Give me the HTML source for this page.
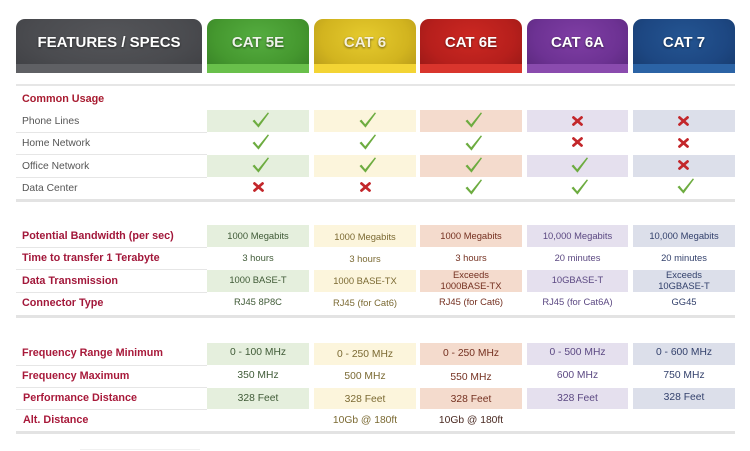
<!DOCTYPE html>
<html><head><meta charset="utf-8">
<style>
html,body{margin:0;padding:0;background:#fff;}
#w{position:relative;width:750px;height:451px;overflow:hidden;background:#fff;font-family:"Liberation Sans",Arial,sans-serif;}
.a{position:absolute;}
.tab{position:absolute;top:19px;height:54px;border-radius:9px 9px 0 0;overflow:hidden;}
.tab .s{position:absolute;left:0;right:0;bottom:0;height:9px;}
.tab .t{position:absolute;left:0;right:0;top:15px;text-align:center;color:#fff;font-weight:bold;font-size:15px;line-height:18px;text-shadow:0 1px 2px rgba(0,0,0,.55);white-space:nowrap;}
.lab{position:absolute;left:22px;white-space:nowrap;line-height:22px;height:22px;}
.l1{color:#555;font-size:10.3px;}
.l2{color:#a2173a;font-size:10.8px;font-weight:bold;}
.sep{position:absolute;left:16px;width:191px;height:1px;background:#e6e6e6;}
.bar{position:absolute;left:16px;width:719px;background:#e3e3e3;}
.cell{position:absolute;height:22px;line-height:22px;text-align:center;white-space:nowrap;}
.v2{font-size:9.4px;}
.v3{font-size:10.3px;}
.g{color:#3f5a36}.y{color:#7b6a33}.r{color:#743020}.p{color:#5b4882}.b{color:#33416c}
</style></head><body><div id="w">

<!-- header tabs -->
<div class="tab" style="left:16px;width:186px;background:radial-gradient(ellipse at 50% 30%,#545559 0%,#4a4b4f 60%,#3e3f43 100%);"><div class="s" style="background:#5f6064"></div><div class="t">FEATURES / SPECS</div></div>
<div class="tab" style="left:207px;width:102px;background:radial-gradient(ellipse at 50% 35%,#55ad40 0%,#45982f 60%,#367f25 100%);"><div class="s" style="background:#69c04b"></div><div class="t" style="color:#eef3ea">CAT 5E</div></div>
<div class="tab" style="left:314px;width:102px;background:radial-gradient(ellipse at 50% 35%,#e6cb2e 0%,#d2b41f 60%,#b39618 100%);"><div class="s" style="background:#f3d434"></div><div class="t" style="color:#f6f1dc">CAT 6</div></div>
<div class="tab" style="left:420px;width:102px;background:radial-gradient(ellipse at 50% 35%,#cc2822 0%,#b61f1c 60%,#941816 100%);"><div class="s" style="background:#d9352d"></div><div class="t">CAT 6E</div></div>
<div class="tab" style="left:527px;width:101px;background:radial-gradient(ellipse at 50% 35%,#7f3ea4 0%,#6d3293 60%,#58277a 100%);"><div class="s" style="background:#8a4bae"></div><div class="t">CAT 6A</div></div>
<div class="tab" style="left:633px;width:102px;background:radial-gradient(ellipse at 50% 35%,#245592 0%,#1d4782 60%,#163a6c 100%);"><div class="s" style="background:#2b63a5"></div><div class="t">CAT 7</div></div>

<div class="bar" style="top:84px;height:2px;background:#e6e6e6"></div>

<!-- shaded cells -->
<div class="a" style="left:207px;top:110px;width:102px;height:22px;background:#e5efdd"></div>
<div class="a" style="left:314px;top:110px;width:102px;height:22px;background:#fcf5dc"></div>
<div class="a" style="left:420px;top:110px;width:102px;height:22px;background:#f4dbcd"></div>
<div class="a" style="left:527px;top:110px;width:101px;height:22px;background:#e5e0ee"></div>
<div class="a" style="left:633px;top:110px;width:102px;height:22px;background:#dcdfea"></div>
<div class="a" style="left:207px;top:155px;width:102px;height:22px;background:#e5efdd"></div>
<div class="a" style="left:314px;top:155px;width:102px;height:22px;background:#fcf5dc"></div>
<div class="a" style="left:420px;top:155px;width:102px;height:22px;background:#f4dbcd"></div>
<div class="a" style="left:527px;top:155px;width:101px;height:22px;background:#e5e0ee"></div>
<div class="a" style="left:633px;top:155px;width:102px;height:22px;background:#dcdfea"></div>

<div class="a" style="left:207px;top:225px;width:102px;height:22px;background:#e5efdd"></div>
<div class="a" style="left:314px;top:225px;width:102px;height:22px;background:#fcf5dc"></div>
<div class="a" style="left:420px;top:225px;width:102px;height:22px;background:#f4dbcd"></div>
<div class="a" style="left:527px;top:225px;width:101px;height:22px;background:#e5e0ee"></div>
<div class="a" style="left:633px;top:225px;width:102px;height:22px;background:#dcdfea"></div>
<div class="a" style="left:207px;top:270px;width:102px;height:22px;background:#e5efdd"></div>
<div class="a" style="left:314px;top:270px;width:102px;height:22px;background:#fcf5dc"></div>
<div class="a" style="left:420px;top:270px;width:102px;height:22px;background:#f4dbcd"></div>
<div class="a" style="left:527px;top:270px;width:101px;height:22px;background:#e5e0ee"></div>
<div class="a" style="left:633px;top:270px;width:102px;height:22px;background:#dcdfea"></div>

<div class="a" style="left:207px;top:343px;width:102px;height:22px;background:#e5efdd"></div>
<div class="a" style="left:314px;top:343px;width:102px;height:22px;background:#fcf5dc"></div>
<div class="a" style="left:420px;top:343px;width:102px;height:22px;background:#f4dbcd"></div>
<div class="a" style="left:527px;top:343px;width:101px;height:22px;background:#e5e0ee"></div>
<div class="a" style="left:633px;top:343px;width:102px;height:22px;background:#dcdfea"></div>
<div class="a" style="left:207px;top:388px;width:102px;height:21px;background:#e5efdd"></div>
<div class="a" style="left:314px;top:388px;width:102px;height:21px;background:#fcf5dc"></div>
<div class="a" style="left:420px;top:388px;width:102px;height:21px;background:#f4dbcd"></div>
<div class="a" style="left:527px;top:388px;width:101px;height:21px;background:#e5e0ee"></div>
<div class="a" style="left:633px;top:388px;width:102px;height:21px;background:#dcdfea"></div>

<!-- separators in label column -->
<div class="sep" style="top:132px"></div>
<div class="sep" style="top:154px"></div>
<div class="sep" style="top:177px"></div>
<div class="sep" style="top:247px"></div>
<div class="sep" style="top:269px"></div>
<div class="sep" style="top:292px"></div>
<div class="sep" style="top:365px"></div>
<div class="sep" style="top:387px"></div>
<div class="sep" style="top:409px"></div>

<!-- bottom bars -->
<div class="bar" style="top:199px;height:3px"></div>
<div class="bar" style="top:315px;height:3px"></div>
<div class="bar" style="top:431px;height:3px"></div>

<!-- section 1 labels -->
<div class="lab l2" style="top:88px;color:#a81b30">Common Usage</div>
<div class="lab l1" style="top:111px">Phone Lines</div>
<div class="lab l1" style="top:133px">Home Network</div>
<div class="lab l1" style="top:156px">Office Network</div>
<div class="lab l1" style="top:178px">Data Center</div>

<!-- icons -->
<svg width="750" height="451" style="position:absolute;left:0;top:0" xmlns="http://www.w3.org/2000/svg">
<defs>
<path id="ck" d="M0.5,9 L2.4,7.6 L6.2,12.2 L15.9,0.4 L17,1.3 L6.5,15.6 Z" fill="#6dac40"/>
<g id="xx" stroke="#c3272b" stroke-width="2.8" stroke-linecap="round"><line x1="1.5" y1="1.5" x2="9.5" y2="8.5"/><line x1="9.5" y1="1.5" x2="1.5" y2="8.5"/></g>
</defs>
<use href="#ck" x="252" y="112"/>
<use href="#ck" x="359" y="112"/>
<use href="#ck" x="465" y="112"/>
<use href="#xx" x="572" y="116"/>
<use href="#xx" x="678" y="116"/>
<use href="#ck" x="252" y="134"/>
<use href="#ck" x="359" y="134"/>
<use href="#ck" x="465" y="135"/>
<use href="#xx" x="572" y="137"/>
<use href="#xx" x="678" y="138"/>
<use href="#ck" x="252" y="157"/>
<use href="#ck" x="359" y="157"/>
<use href="#ck" x="465" y="157"/>
<use href="#ck" x="571" y="157"/>
<use href="#xx" x="678" y="160"/>
<use href="#xx" x="253" y="182"/>
<use href="#xx" x="360" y="182"/>
<use href="#ck" x="465" y="179"/>
<use href="#ck" x="571" y="179"/>
<use href="#ck" x="677" y="178"/>
</svg>

<!-- section 2 labels -->
<div class="lab l2" style="top:225px">Potential Bandwidth (per sec)</div>
<div class="lab l2" style="top:247px">Time to transfer 1 Terabyte</div>
<div class="lab l2" style="top:270px">Data Transmission</div>
<div class="lab l2" style="top:292px">Connector Type</div>

<!-- section 2 values -->
<div class="cell v2 g" style="left:207px;width:102px;top:225px">1000 Megabits</div>
<div class="cell v2 y" style="left:314px;width:102px;top:226px">1000 Megabits</div>
<div class="cell v2 r" style="left:420px;width:102px;top:225px">1000 Megabits</div>
<div class="cell v2 p" style="left:527px;width:101px;top:225px">10,000 Megabits</div>
<div class="cell v2 b" style="left:633px;width:102px;top:225px">10,000 Megabits</div>

<div class="cell v2 g" style="left:207px;width:102px;top:247px">3 hours</div>
<div class="cell v2 y" style="left:314px;width:102px;top:248px">3 hours</div>
<div class="cell v2 r" style="left:420px;width:102px;top:247px">3 hours</div>
<div class="cell v2 p" style="left:527px;width:101px;top:247px">20 minutes</div>
<div class="cell v2 b" style="left:633px;width:102px;top:247px">20 minutes</div>

<div class="cell v2 g" style="left:207px;width:102px;top:269px">1000 BASE-T</div>
<div class="cell v2 y" style="left:314px;width:102px;top:270px">1000 BASE-TX</div>
<div class="cell v2 r" style="left:420px;width:102px;top:269px;line-height:11px">Exceeds<br>1000BASE-TX</div>
<div class="cell v2 p" style="left:527px;width:101px;top:269px">10GBASE-T</div>
<div class="cell v2 b" style="left:633px;width:102px;top:269px;line-height:11px">Exceeds<br>10GBASE-T</div>

<div class="cell v2 g" style="left:207px;width:102px;top:291px">RJ45 8P8C</div>
<div class="cell v2 y" style="left:314px;width:102px;top:292px">RJ45 (for Cat6)</div>
<div class="cell v2 r" style="left:420px;width:102px;top:291px">RJ45 (for Cat6)</div>
<div class="cell v2 p" style="left:527px;width:101px;top:291px">RJ45 (for Cat6A)</div>
<div class="cell v2 b" style="left:633px;width:102px;top:291px">GG45</div>

<!-- section 3 labels -->
<div class="lab l2" style="top:342px;color:#a8193a">Frequency Range Minimum</div>
<div class="lab l2" style="top:365px;color:#a8193a">Frequency Maximum</div>
<div class="lab l2" style="top:387px;left:23px;color:#a8193a">Performance Distance</div>
<div class="lab l2" style="top:409px;left:23px;color:#a8193a">Alt. Distance</div>

<!-- section 3 values -->
<div class="cell v3 g" style="left:207px;width:102px;top:342px">0 - 100 MHz</div>
<div class="cell v3 y" style="left:314px;width:102px;top:344px">0 - 250 MHz</div>
<div class="cell v3 r" style="left:420px;width:102px;top:343px">0 - 250 MHz</div>
<div class="cell v3 p" style="left:527px;width:101px;top:342px">0 - 500 MHz</div>
<div class="cell v3 b" style="left:633px;width:102px;top:342px">0 - 600 MHz</div>

<div class="cell v3 g" style="left:207px;width:102px;top:365px">350 MHz</div>
<div class="cell v3 y" style="left:314px;width:102px;top:366px">500 MHz</div>
<div class="cell v3 r" style="left:420px;width:102px;top:367px">550 MHz</div>
<div class="cell v3 p" style="left:527px;width:101px;top:365px">600 MHz</div>
<div class="cell v3 b" style="left:633px;width:102px;top:365px">750 MHz</div>

<div class="cell v3 g" style="left:207px;width:102px;top:388px">328 Feet</div>
<div class="cell v3 y" style="left:314px;width:102px;top:389px">328 Feet</div>
<div class="cell v3 r" style="left:420px;width:102px;top:389px">328 Feet</div>
<div class="cell v3 p" style="left:527px;width:101px;top:388px">328 Feet</div>
<div class="cell v3 b" style="left:633px;width:102px;top:387px">328 Feet</div>

<div class="cell v3 y" style="left:314px;width:102px;top:410px">10Gb @ 180ft</div>
<div class="cell v3 r" style="left:420px;width:102px;top:410px;color:#4a2a22">10Gb @ 180ft</div>

<div class="a" style="left:80px;top:449px;width:120px;height:1px;background:#f0f0f0"></div>
</div></body></html>
